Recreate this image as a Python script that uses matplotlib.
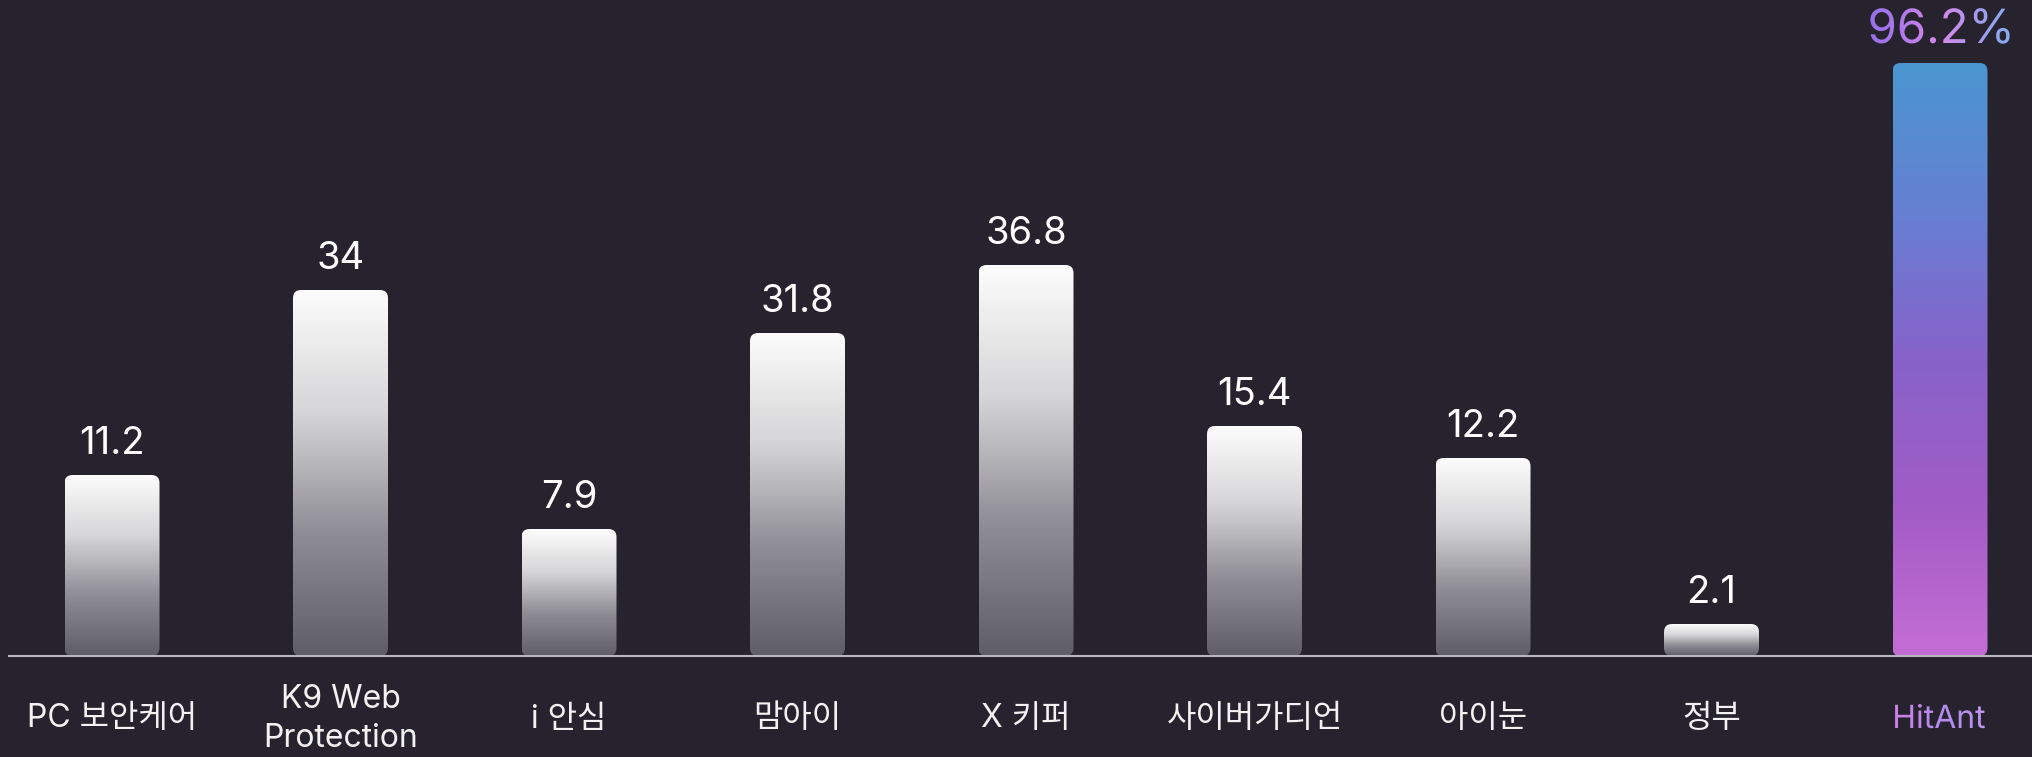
import numpy as np
import matplotlib.pyplot as plt
from matplotlib.patches import FancyBboxPatch, PathPatch
from matplotlib.colors import LinearSegmentedColormap
from matplotlib.textpath import TextPath
from matplotlib.font_manager import FontProperties
from matplotlib.transforms import Affine2D

# data
categories = ['PC 보안케어', 'K9 Web\nProtection', 'i 안심', '맘아이', 'X 키퍼',
              '사이버가디언', '아이눈', '정부', 'HitAnt']
value_labels = ['11.2', '34', '7.9', '31.8', '36.8', '15.4', '12.2', '2.1', '96.2%']
# the bars are not drawn to the label scale, these are the heights as drawn (px)
bar_heights = [181, 366, 127, 323, 391, 230, 198, 32, 593]

BG = '#26232e'
W, H, DPI = 2033, 757, 100
STEP = 228.5      # px between bar centres
X0 = 112          # px of first bar centre
BASE = 656        # px from top of baseline
BAR_W = 95 / STEP
FONTS = ['Inter', 'Noto Sans CJK KR', 'DejaVu Sans']

gray_cmap = LinearSegmentedColormap.from_list('gray', ['#5f5d66', '#8e8c94', '#d6d6d8', '#fcfcfc'])
hit_cmap = LinearSegmentedColormap.from_list('hit', ['#c46ed4', '#a25cc6', '#8762c9', '#6680d2', '#4a96d0'])

fig = plt.figure(figsize=(W / DPI, H / DPI), dpi=DPI, facecolor=BG)
ax = fig.add_axes([0, 0, 1, 1])
ax.set_facecolor(BG)
ax.axis('off')
xlim = (-X0 / STEP, (W - X0) / STEP)
ylim = (-(H - BASE), BASE)
ax.set_xlim(*xlim)
ax.set_ylim(*ylim)

grad = np.linspace(0, 1, 256).reshape(-1, 1)

for i, h in enumerate(bar_heights):
    left = i - BAR_W / 2
    patch = FancyBboxPatch((left, 0), BAR_W, h,
                           boxstyle=f'round,pad=0,rounding_size={8 / STEP}',
                           mutation_aspect=STEP, fc='none', ec='none')
    ax.add_patch(patch)
    cmap = hit_cmap if categories[i] == 'HitAnt' else gray_cmap
    im = ax.imshow(grad, cmap=cmap, extent=(left, left + BAR_W, 0, h),
                   origin='lower', aspect='auto', interpolation='bicubic')
    im.set_clip_path(patch)

ax.set_xlim(*xlim)
ax.set_ylim(*ylim)

# baseline
ax.axhline(0, xmin=9 / W, xmax=1, color='#b8b7bf', lw=1.5, zorder=5)


def gradient_text(s, x, y, size, colors):
    # text filled with a horizontal gradient, centred on x, baseline at y (data)
    fp = FontProperties(family='Inter', weight='normal')
    tp = TextPath((0, 0), s, size=size, prop=fp)
    bb = tp.get_extents()
    k = DPI / 72
    dx, dy = ax.transData.transform((x, y))
    tx = dx - (bb.x0 + bb.width / 2) * k
    tr = Affine2D().scale(k).translate(tx, dy)
    pp = PathPatch(tp, transform=tr, fc='none', ec='none')
    ax.add_artist(pp)
    inv = ax.transData.inverted()
    (ex0, ey0) = inv.transform((tx + bb.x0 * k - 2, dy + bb.y0 * k - 2))
    (ex1, ey1) = inv.transform((tx + bb.x1 * k + 2, dy + bb.y1 * k + 2))
    cm = LinearSegmentedColormap.from_list('t', colors)
    im = ax.imshow(np.linspace(0, 1, 256).reshape(1, -1), cmap=cm,
                   extent=(ex0, ex1, ey0, ey1), aspect='auto', zorder=6)
    im.set_clip_path(pp)


for i, (lbl, h) in enumerate(zip(value_labels, bar_heights)):
    if categories[i] == 'HitAnt':
        gradient_text(lbl, i, h + 20, 34, ['#9470ea', '#b27ae9', '#d888ea', '#a898ee', '#82aef0'])
    else:
        ax.text(i, h + 21, lbl, ha='center', va='baseline', color='white',
                fontsize=27.5, family=FONTS, fontweight='normal')

for i, cat in enumerate(categories):
    if cat == 'HitAnt':
        gradient_text(cat, i, -72, 23, ['#d07ee6', '#b48cf0', '#bc96ee'])
    else:
        ax.text(i, -63, cat, ha='center', va='center', color='#f2f2f2',
                fontsize=23, family=FONTS, fontweight='normal', linespacing=1.35)

ax.set_xlim(*xlim)
ax.set_ylim(*ylim)

fig.savefig('out.png', dpi=DPI, facecolor=BG)
print('saved out.png')
